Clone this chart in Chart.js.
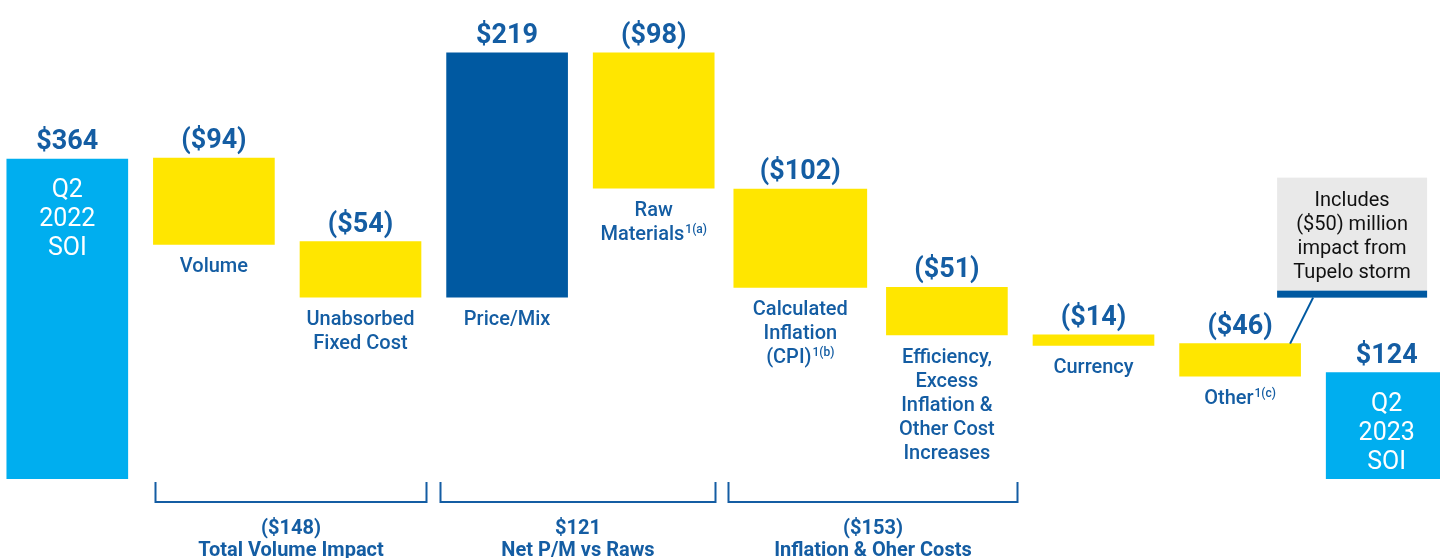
<!DOCTYPE html>
<html>
<head>
<meta charset="utf-8">
<script src="https://cdn.jsdelivr.net/npm/chart.js@4"></script>
<style>
  html, body { margin: 0; padding: 0; background: #fff; overflow: hidden; }
  #wrap { position: absolute; left: -6px; top: 0; width: 1466px; height: 558px; }
</style>
</head>
<body>
<div id="wrap"><canvas id="bridge"></canvas></div>
<script>
// bridge steps, Q2 2022 SOI -> Q2 2023 SOI ($ millions)
const categories = ["Q2 2022 SOI", "Volume", "Unabsorbed Fixed Cost", "Price/Mix", "Raw Materials",
  "Calculated Inflation", "Efficiency", "Currency", "Other", "Q2 2023 SOI"];
// bar bottoms / tops as drawn in the slide (not to scale between steps)
const barLow  = [0, 267, 207, 207, 331, 218, 164, 152, 117, 0];
const barHigh = [364, 365, 270, 485, 485, 330, 218, 164, 154, 121];
const valueLabels = ["$364", "($94)", "($54)", "$219", "($98)", "($102)", "($51)", "($14)", "($46)", "$124"];
const barKind = ["total", "neg", "neg", "pos", "neg", "neg", "neg", "neg", "neg", "total"];

// text under the bars, "^" starts a superscript
const belowLabels = [
  [],
  ["Volume"],
  ["Unabsorbed", "Fixed Cost"],
  ["Price/Mix"],
  ["Raw", "Materials^1(a)"],
  ["Calculated", "Inflation", "(CPI)^1(b)"],
  ["Efficiency,", "Excess", "Inflation &", "Other Cost", "Increases"],
  ["Currency"],
  ["Other^1(c)"],
  []
];
const insideLabels = { 0: ["Q2", "2022", "SOI"], 9: ["Q2", "2023", "SOI"] };

// brackets under the steps, in category units
const groupStart = [0.6, 2.54, 4.51];
const groupEnd = [2.45, 4.42, 6.48];
const groupValues = ["($148)", "$121", "($153)"];
const groupNames = ["Total Volume Impact", "Net P/M vs Raws", "Inflation & Oher Costs"];

const calloutLines = ["Includes", "($50) million", "impact from", "Tupelo storm"];
const calloutIndex = 8;

const colors = { total: "#00AEEF", neg: "#FFE600", pos: "#0059A1" };
const textBlue = "#145DA3";
const FONT = "Roboto, 'Open Sans', sans-serif";

function drawWithSup(ctx, str, x, y, size) {
  const parts = str.split("^");
  ctx.font = "500 " + size + "px " + FONT;
  const w1 = ctx.measureText(parts[0]).width;
  let w2 = 0;
  if (parts[1]) {
    ctx.font = "500 " + Math.round(size * 0.6) + "px " + FONT;
    w2 = ctx.measureText(parts[1]).width + 1;
  }
  const left = x - (w1 + w2) / 2;
  ctx.textAlign = "left";
  ctx.font = "500 " + size + "px " + FONT;
  ctx.fillText(parts[0], left, y);
  if (parts[1]) {
    ctx.font = "500 " + Math.round(size * 0.6) + "px " + FONT;
    ctx.fillText(parts[1], left + w1 + 1, y - 7);
  }
}

const annotate = {
  id: "annotate",
  afterDatasetsDraw(chart) {
    const ctx = chart.ctx;
    const xs = chart.scales.x, ys = chart.scales.y;
    ctx.save();
    ctx.textBaseline = "alphabetic";
    categories.forEach((c, i) => {
      const x = xs.getPixelForValue(i);
      const top = ys.getPixelForValue(barHigh[i]);
      const bot = ys.getPixelForValue(barLow[i]);
      // value above bar
      ctx.fillStyle = textBlue;
      ctx.textAlign = "center";
      ctx.font = "bold 27px " + FONT;
      ctx.fillText(valueLabels[i], x, top - 10);
      // label under bar
      belowLabels[i].forEach((line, k) => {
        ctx.fillStyle = textBlue;
        drawWithSup(ctx, line, x, bot + 28 + k * 24, 20);
      });
      // text inside total bars
      if (insideLabels[i]) {
        ctx.fillStyle = "#fff";
        ctx.textAlign = "center";
        ctx.font = "25px " + FONT;
        insideLabels[i].forEach((line, k) => {
          ctx.fillText(line, x, top + 38 + k * 29);
        });
      }
    });

    // brackets
    ctx.strokeStyle = textBlue;
    ctx.lineWidth = 2;
    groupStart.forEach((s, g) => {
      const l = Math.round(xs.getPixelForValue(s)) + 0.5;
      const r = Math.round(xs.getPixelForValue(groupEnd[g])) + 0.5;
      const yTop = 482, yBot = 502;
      ctx.beginPath();
      ctx.moveTo(l, yTop); ctx.lineTo(l, yBot); ctx.lineTo(r, yBot); ctx.lineTo(r, yTop);
      ctx.stroke();
      ctx.fillStyle = textBlue;
      ctx.textAlign = "center";
      ctx.font = "bold 20px " + FONT;
      const cx = (l + r) / 2;
      ctx.fillText(groupValues[g], cx, 534);
      ctx.fillText(groupNames[g], cx, 556);
    });

    // callout for Other
    const ox = xs.getPixelForValue(calloutIndex);
    const oy = ys.getPixelForValue(barHigh[calloutIndex]);
    const boxL = ox + 37, boxR = ox + 187, boxB = oy - 53, boxT = boxB - 113;
    ctx.fillStyle = "#E9E9E9";
    ctx.fillRect(boxL, boxT, boxR - boxL, boxB - boxT);
    ctx.fillStyle = "#0059A1";
    ctx.fillRect(boxL, boxB, boxR - boxL, 7);
    ctx.strokeStyle = "#0059A1";
    ctx.lineWidth = 2;
    ctx.beginPath();
    ctx.moveTo(ox + 50, oy);
    ctx.lineTo(ox + 73, boxB + 7);
    ctx.stroke();
    ctx.fillStyle = "#111";
    ctx.textAlign = "center";
    ctx.font = "20px " + FONT;
    calloutLines.forEach((line, k) => {
      ctx.fillText(line, (boxL + boxR) / 2, boxT + 28 + k * 24);
    });
    ctx.restore();
  }
};

const ctx = document.getElementById("bridge").getContext("2d");
new Chart(ctx, {
  type: "bar",
  data: {
    labels: categories,
    datasets: [{
      data: categories.map((c, i) => i === 5 ? null : [barLow[i], barHigh[i]]),
      backgroundColor: barKind.map(k => colors[k]),
      barThickness: 121,
      grouped: false,
      borderWidth: 0
    }, {
      data: categories.map((c, i) => i === 5 ? [barLow[i], barHigh[i]] : null),
      backgroundColor: barKind.map(k => colors[k]),
      barThickness: 133,
      grouped: false,
      borderWidth: 0
    }]
  },
  options: {
    responsive: true,
    maintainAspectRatio: false,
    animation: false,
    layout: { padding: { left: 0, right: 0, top: 0, bottom: 79 } },
    plugins: { legend: { display: false }, tooltip: { enabled: false } },
    scales: {
      x: { display: false },
      y: { display: false, min: 0, max: 545 }
    }
  },
  plugins: [annotate]
});
</script>
</body>
</html>
